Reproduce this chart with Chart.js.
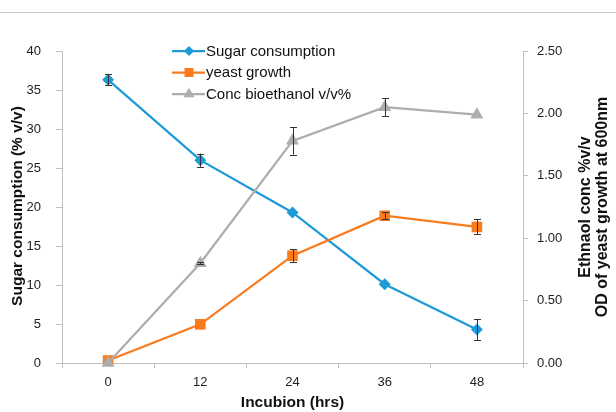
<!DOCTYPE html>
<html>
<head>
<meta charset="utf-8">
<script src="https://cdn.jsdelivr.net/npm/chart.js@4"></script>
<style>
  html, body { margin: 0; padding: 0; background: #ffffff; }
  #wrap { width: 616px; height: 412px; position: relative; }
  canvas { display: block; }
</style>
</head>
<body>
<div id="wrap"><canvas id="c" width="616" height="412"></canvas></div>
<script>
// Incubation time points (hours)
const hours = ['0', '12', '24', '36', '48'];

// Sugar consumption (% v/v), left axis
const sugar = [36.3, 26.0, 19.3, 10.1, 4.3];
const sugarErr = [0.7, 0.85, 0, 0, 1.35];

// Yeast growth (OD at 600nm), right axis
const yeast = [0.02, 0.31, 0.86, 1.18, 1.09];
const yeastErr = [0, 0, 0.05, 0.03, 0.06];

// Bioethanol concentration (% v/v), right axis
const ethanol = [0.0, 0.80, 1.78, 2.05, 1.99];
const ethanolErr = [0, 0.01, 0.11, 0.07, 0];

const leftTicks = { min: 0, max: 40, step: 5 };
const rightTicks = { min: 0, max: 2.5, step: 0.5 };

const BLUE = '#1E9AD6';
const ORANGE = '#FA7A1E';
const GRAY = '#ADADAD';
const AXIS = '#BFBFBF';
const FONT = '"Liberation Sans", Arial, Helvetica, sans-serif';

// Vertical error bars with small caps, drawn over the series
const errorBars = {
  id: 'errorBars',
  afterDatasetsDraw(chart) {
    const ctx = chart.ctx;
    ctx.save();
    ctx.strokeStyle = '#333333';
    ctx.lineWidth = 1;
    chart.data.datasets.forEach((ds, i) => {
      const meta = chart.getDatasetMeta(i);
      const ys = chart.scales[ds.yAxisID];
      meta.data.forEach((pt, j) => {
        const e = ds.errors[j];
        if (!e) return;
        const x = Math.round(pt.x) + 0.5;
        const top = ys.getPixelForValue(ds.data[j] + e);
        const bot = ys.getPixelForValue(ds.data[j] - e);
        ctx.beginPath();
        ctx.moveTo(x, top); ctx.lineTo(x, bot);
        ctx.moveTo(x - 3.5, Math.round(top) + 0.5); ctx.lineTo(x + 3.5, Math.round(top) + 0.5);
        ctx.moveTo(x - 3.5, Math.round(bot) + 0.5); ctx.lineTo(x + 3.5, Math.round(bot) + 0.5);
        ctx.stroke();
      });
    });
    ctx.restore();
  }
};

// Line-and-marker legend plus axis titles and the rule across the top
const decorations = {
  id: 'decorations',
  afterDraw(chart) {
    const ctx = chart.ctx;
    const area = chart.chartArea;
    ctx.save();

    // rule across the top
    ctx.strokeStyle = '#C8C8C8';
    ctx.lineWidth = 1;
    ctx.beginPath();
    ctx.moveTo(0, 12.5); ctx.lineTo(616, 12.5);
    ctx.stroke();

    // legend
    chart.data.datasets.forEach((ds, k) => {
      const y = 51 + k * 21.5;
      ctx.strokeStyle = ds.borderColor;
      ctx.lineWidth = ds.borderWidth;
      ctx.beginPath();
      ctx.moveTo(172, y); ctx.lineTo(205, y);
      ctx.stroke();
      ctx.fillStyle = ds.pointBackgroundColor;
      Chart.helpers.drawPoint(ctx, {
        pointStyle: ds.pointStyle,
        radius: ds.pointRadius * 0.85,
        rotation: 0,
        borderWidth: 0
      }, 189, y);
      ctx.fillStyle = '#111111';
      ctx.font = '15px ' + FONT;
      ctx.textAlign = 'left';
      ctx.textBaseline = 'middle';
      ctx.fillText(ds.label, 206, y + 0.5);
    });

    // axis titles
    ctx.fillStyle = '#111111';
    ctx.textAlign = 'center';
    ctx.textBaseline = 'middle';
    const midY = (area.top + area.bottom) / 2;

    ctx.font = 'bold 15.5px ' + FONT;
    ctx.fillText('Incubion (hrs)', (area.left + area.right) / 2, 403);

    ctx.font = 'bold 15.5px ' + FONT;
    ctx.save();
    ctx.translate(18, midY - 1);
    ctx.rotate(-Math.PI / 2);
    ctx.fillText('Sugar consumption (% v/v)', 0, 0);
    ctx.restore();

    ctx.font = 'bold 16px ' + FONT;
    ctx.save();
    ctx.translate(586, midY);
    ctx.rotate(-Math.PI / 2);
    ctx.fillText('Ethnaol conc %v/v', 0, 0);
    ctx.restore();

    ctx.save();
    ctx.translate(603, midY);
    ctx.rotate(-Math.PI / 2);
    ctx.fillText('OD of yeast growth at 600nm', 0, 0);
    ctx.restore();

    ctx.restore();
  }
};

const tickFont = { family: FONT, size: 13 };

new Chart(document.getElementById('c'), {
  type: 'line',
  data: {
    labels: hours,
    datasets: [
      {
        label: 'Sugar consumption',
        data: sugar,
        errors: sugarErr,
        yAxisID: 'y',
        borderColor: BLUE,
        backgroundColor: BLUE,
        pointBackgroundColor: BLUE,
        pointBorderColor: BLUE,
        borderWidth: 2.25,
        pointStyle: 'rectRot',
        pointRadius: 6,
        pointBorderWidth: 0,
        tension: 0,
        clip: false,
        order: 3
      },
      {
        label: 'yeast growth',
        data: yeast,
        errors: yeastErr,
        yAxisID: 'y1',
        borderColor: ORANGE,
        backgroundColor: ORANGE,
        pointBackgroundColor: ORANGE,
        pointBorderColor: ORANGE,
        borderWidth: 2.25,
        pointStyle: 'rect',
        pointRadius: 7.5,
        pointBorderWidth: 0,
        tension: 0,
        clip: false,
        order: 2
      },
      {
        label: 'Conc bioethanol v/v%',
        data: ethanol,
        errors: ethanolErr,
        yAxisID: 'y1',
        borderColor: GRAY,
        backgroundColor: GRAY,
        pointBackgroundColor: GRAY,
        pointBorderColor: GRAY,
        borderWidth: 2.25,
        pointStyle: 'triangle',
        pointRadius: 7.5,
        pointBorderWidth: 0,
        tension: 0,
        clip: false,
        order: 1
      }
    ]
  },
  options: {
    responsive: false,
    animation: false,
    devicePixelRatio: 1,
    layout: { padding: { top: 51, left: 0, right: 0, bottom: 0 } },
    plugins: {
      legend: { display: false },
      tooltip: { enabled: false }
    },
    scales: {
      x: {
        type: 'category',
        offset: true,
        afterFit(s) { s.height = 49; },
        grid: {
          offset: true,
          drawOnChartArea: false,
          drawTicks: true,
          tickLength: 5,
          color: AXIS
        },
        border: { color: AXIS, width: 1 },
        ticks: { font: tickFont, color: '#222222', padding: 7, maxRotation: 0 }
      },
      y: {
        position: 'left',
        min: leftTicks.min,
        max: leftTicks.max,
        afterFit(s) { s.width = 62; },
        grid: { drawOnChartArea: false, tickLength: 6, color: AXIS },
        border: { color: AXIS, width: 1 },
        ticks: { stepSize: leftTicks.step, font: tickFont, color: '#222222', padding: 15 }
      },
      y1: {
        position: 'right',
        min: rightTicks.min,
        max: rightTicks.max,
        afterFit(s) { s.width = 93; },
        grid: { drawOnChartArea: false, tickLength: 5, color: AXIS },
        border: { color: AXIS, width: 1 },
        ticks: {
          stepSize: rightTicks.step,
          font: tickFont,
          color: '#222222',
          padding: 9,
          callback: (v) => Number(v).toFixed(2)
        }
      }
    }
  },
  plugins: [errorBars, decorations]
});
</script>
</body>
</html>
